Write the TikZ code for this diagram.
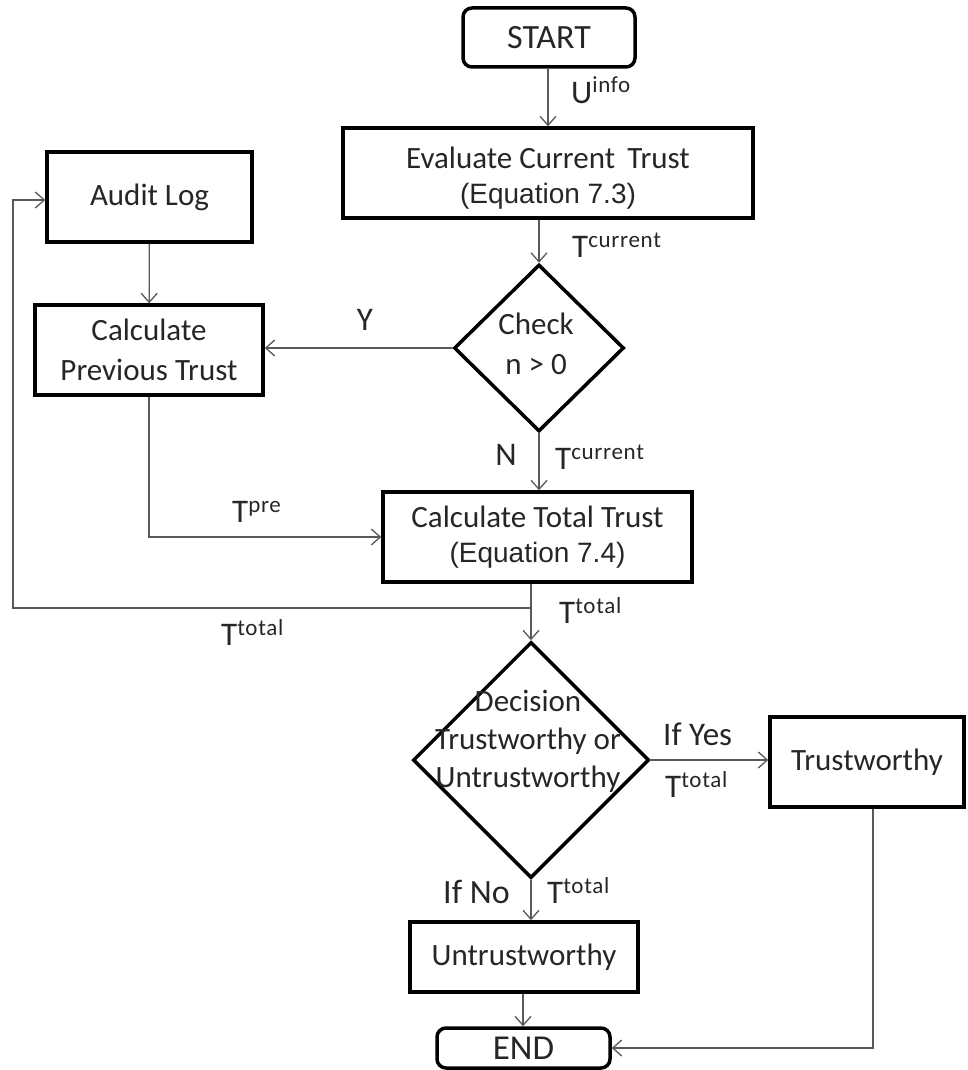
\documentclass[tikz,border=0pt]{standalone}
\usepackage{fontspec}
\setmainfont{Carlito}
\newfontfamily\eqfont{Liberation Sans}
\usetikzlibrary{shapes.geometric,arrows.meta}
% a capital with a raised, smaller word after it, as in T^{total}
\newcommand\Wsup[2]{{\fontsize{33}{33}\selectfont #1}\raisebox{10pt}{\fontsize{23}{23}\selectfont\addfontfeatures{LetterSpace=3}#2}}
\newcommand\eqline[1]{{\eqfont\fontsize{28}{28}\selectfont #1}}
\begin{document}
\begin{tikzpicture}[x=1pt,y=-1pt,
  base/.style={font=\fontsize{31}{35}\selectfont, text=black!85},
  procbox/.style={base, draw=black, line width=3.5pt, inner sep=0pt, align=center},
  termbox/.style={procbox, rounded corners=9pt},
  decide/.style={diamond, draw=black, line width=3.5pt, inner sep=0pt},
  flow/.style={draw=black!65, line width=1.3pt, -{Straight Barb[length=9pt,width=16pt]}},
  link/.style={draw=black!65, line width=1.3pt},
  tag/.style={base, inner sep=0pt, font=\fontsize{33}{33}\selectfont},
]
\useasboundingbox (0,0) rectangle (967,1070);

% process boxes and terminals
\node[termbox, minimum width=172, minimum height=59, font=\fontsize{34}{34}\selectfont] (start) at (549,37.5) {START};
\node[procbox, minimum width=410, minimum height=90] (eval) at (548,173) {};
\node[base, align=center, inner sep=0pt] (evaltext) at (548,178)
  {Evaluate Current\, Trust\\\eqline{(Equation 7.3)}};
\node[procbox, minimum width=205, minimum height=90] (audit) at (149.5,197) {Audit Log};
\node[procbox, minimum width=228, minimum height=90, font=\fontsize{31}{40}\selectfont] (prev) at (149,350) {Calculate\\Previous Trust};
\node[decide, minimum width=170, minimum height=167] (check) at (539,348) {};
\node[base, align=center, inner sep=0pt, font=\fontsize{31}{40}\selectfont] (checktext) at (536,344) {Check\\n > 0};
\node[procbox, minimum width=309, minimum height=90] (total) at (537.5,537)
  {Calculate Total Trust\\\eqline{(Equation 7.4)}};
\node[decide, minimum width=236, minimum height=236] (dec) at (531,760) {};
\node[base, align=center, inner sep=0pt, font=\fontsize{31}{38}\selectfont] (dectext) at (528,741)
  {Decision\\Trustworthy or\\Untrustworthy};
\node[procbox, minimum width=194, minimum height=90] (trust) at (867,762) {Trustworthy};
\node[procbox, minimum width=228, minimum height=70] (untrust) at (524,957) {Untrustworthy};
\node[termbox, minimum width=173, minimum height=40, font=\fontsize{35}{35}\selectfont] (end) at (523.5,1048) {END};

% junction points of the connectors
\coordinate (split) at (531,608);
\coordinate (backleft) at (13,608);
\coordinate (backtop) at (13,200);

% connectors
\draw[flow] (start.south -| 548,0) -- (eval.north -| 548,0);
\draw[flow] (eval.south -| check.north) -- (check.north);
\draw[flow] (audit) -- (prev);
\draw[flow] (check.west) -- (prev.east |- check.west);
\draw[flow] (check.south) -- (total.north -| check.south);
\draw[flow] (prev.south) |- (total.west);
\draw[link] (total.south -| split) -- (split);
\draw[flow] (split) -- (dec.north);
\draw[flow] (split) -- (backleft) -- (backtop) -- (audit.west |- backtop);
\draw[flow] (dec.east) -- (trust.west |- dec.east);
\draw[flow] (dec.south) -- (untrust.north -| dec.south);
\draw[flow] (untrust.south -| 523,0) -- (end.north -| 523,0);
\draw[flow] (trust.south -| 873,0) |- (end.east);

% connector labels
\node[tag, anchor=base west] (uinfo) at (571,103) {\Wsup{U}{info}};
\node[tag, anchor=base west] (tcur1) at (572,257) {\Wsup{T}{current}};
\node[tag] (ylab) at (365,320) {Y};
\node[tag] (nlab) at (506,455) {N};
\node[tag, anchor=base west] (tcur2) at (555,469) {\Wsup{T}{current}};
\node[tag, anchor=base west] (tpre) at (232,522) {\Wsup{T}{pre}};
\node[tag, anchor=base west] (ttot1) at (221,645) {\Wsup{T}{total}};
\node[tag, anchor=base west] (ttot2) at (559,623) {\Wsup{T}{total}};
\node[tag, anchor=base west] (yes) at (663,745) {If Yes};
\node[tag, anchor=base west] (ttot3) at (665,797) {\Wsup{T}{total}};
\node[tag, anchor=base west, font=\fontsize{34}{34}\selectfont] (no) at (443,903) {If No};
\node[tag, anchor=base west] (ttot4) at (547,903) {\Wsup{T}{total}};
\end{tikzpicture}
\end{document}
